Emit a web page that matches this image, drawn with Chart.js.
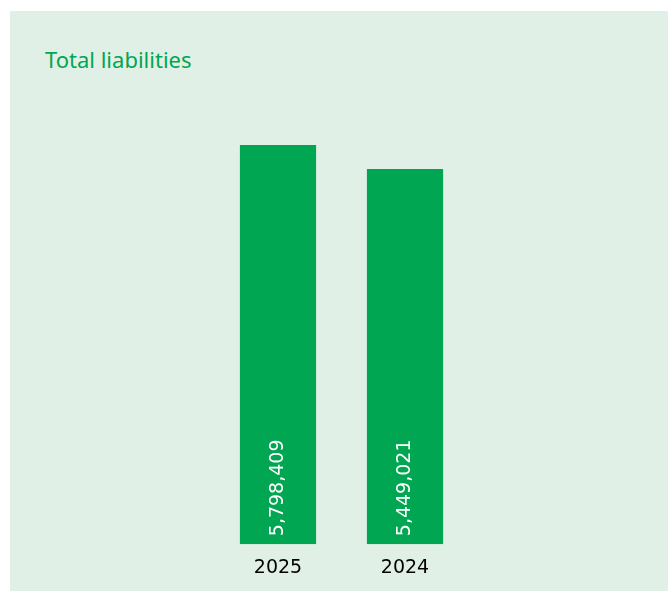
<!DOCTYPE html>
<html>
<head>
<meta charset="utf-8">
<script src="https://cdn.jsdelivr.net/npm/chart.js@4"></script>
<style>
  html, body { margin: 0; padding: 0; background: #ffffff; }
  #panel {
    position: absolute; left: 10px; top: 11px; width: 658px; height: 580px;
    background: #e1f0e6;
  }
  #title {
    position: absolute; left: 35px; top: 33px;
    font-family: "Noto Sans", sans-serif; font-size: 22px; color: #00a651;
  }
  #chartBox { position: absolute; left: 0; top: 0; width: 658px; height: 580px; }
</style>
</head>
<body>
<div id="panel">
  <div id="title">Total liabilities</div>
  <div id="chartBox"><canvas id="liabilities"></canvas></div>
</div>
<script>
// Chart data
let years = ["2025", "2024"];
let liabilities = [5798409, 5449021];

// Draws the rotated value inside each bar, near its base
const barValueLabels = {
    id: "barValueLabels",
    afterDatasetsDraw(chart) {
        let ctx = chart.ctx;
        let meta = chart.getDatasetMeta(0);
        ctx.save();
        ctx.fillStyle = "#ffffff";
        ctx.font = "19px 'DejaVu Sans'";
        ctx.textAlign = "left";
        ctx.textBaseline = "middle";
        meta.data.forEach((bar, i) => {
            ctx.save();
            ctx.translate(bar.x, bar.base - 8);
            ctx.rotate(-Math.PI / 2);
            ctx.fillText(liabilities[i].toLocaleString("en-US"), 0, 0);
            ctx.restore();
        });
        ctx.restore();
    }
};

let ctx = document.getElementById("liabilities").getContext("2d");
new Chart(ctx, {
    type: "bar",
    data: {
        labels: years,
        datasets: [{
            label: "Total liabilities",
            data: liabilities,
            backgroundColor: "#00a651",
            borderWidth: 0,
            barPercentage: 0.6,
            categoryPercentage: 1.0
        }]
    },
    options: {
        responsive: true,
        maintainAspectRatio: false,
        animation: false,
        layout: { padding: { left: 204.5, right: 199.5, top: 134, bottom: 0 } },
        plugins: {
            legend: { display: false },
            tooltip: { enabled: false }
        },
        scales: {
            x: {
                grid: { display: false, drawTicks: false },
                border: { display: false },
                ticks: {
                    color: "#000000",
                    padding: 12,
                    font: { family: "DejaVu Sans", size: 19 }
                }
            },
            y: {
                display: false,
                min: 0,
                max: 5798409
            }
        }
    },
    plugins: [barValueLabels]
});
</script>
</body>
</html>
